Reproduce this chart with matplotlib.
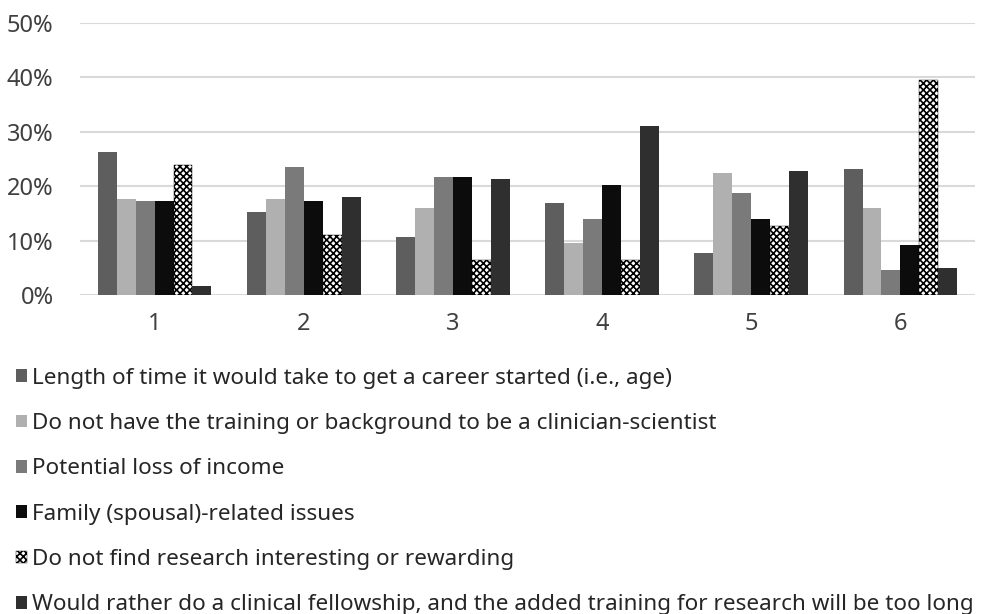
import matplotlib
matplotlib.use("Agg")
import matplotlib.pyplot as plt
import numpy as np

plt.rcParams['font.family'] = ['Noto Sans', 'DejaVu Sans']

# 数据（从图中读取，单位 %）
groups = ['1', '2', '3', '4', '5', '6']
labels = [
    'Length of time it would take to get a career started (i.e., age)',
    'Do not have the training or background to be a clinician-scientist',
    'Potential loss of income',
    'Family (spousal)-related issues',
    'Do not find research interesting or rewarding',
    'Would rather do a clinical fellowship, and the added training for research will be too long',
]
length_time = [26.2, 15.3, 10.7, 16.9, 7.7, 23.1]
no_training = [17.6, 17.6, 16.0, 9.6, 22.5, 16.0]
loss_income = [17.2, 23.5, 21.7, 14.0, 18.7, 4.6]
family = [17.2, 17.2, 21.7, 20.3, 14.0, 9.2]
not_interesting = [23.9, 11.0, 6.4, 6.4, 12.7, 39.6]
clinical_fellowship = [1.6, 18.0, 21.3, 31.1, 22.8, 4.9]

series = [length_time, no_training, loss_income, family, not_interesting, clinical_fellowship]
colors = ['#5e5e5e', '#b0b0b0', '#7a7a7a', '#0c0c0c', 'white', '#2f2f2f']
hatches = [None, None, None, None, 'xxxxx', None]

fig = plt.figure(figsize=(9.91, 6.14), dpi=100)
ax = fig.add_axes([80 / 991, 1 - 295 / 614, 895 / 991, 272 / 614])

x = np.arange(len(groups))
w = 0.127
plt.rcParams['hatch.linewidth'] = 1.2
bars = []
for i, vals in enumerate(series):
    b = ax.bar(x + (i - 2.5) * w, vals, w, color=colors[i], hatch=hatches[i],
               edgecolor='black' if hatches[i] else colors[i], linewidth=0.3 if hatches[i] else 0,
               label=labels[i], zorder=3)
    bars.append(b)

ax.set_xlim(-0.5, len(groups) - 0.5)
ax.set_ylim(0, 50)
ax.set_yticks(range(0, 51, 10))
ax.set_yticklabels([f'{v}%' for v in range(0, 51, 10)])
ax.set_xticks(x)
ax.set_xticklabels(groups)
ax.grid(axis='y', color='#d9d9d9', linewidth=1.5, zorder=0)
for s in ax.spines.values():
    s.set_visible(False)
ax.tick_params(length=0, labelsize=17, colors='#404040')
ax.tick_params(axis='x', pad=12)
ax.tick_params(axis='y', pad=19)

fig.legend(handles=bars, loc='upper left', bbox_to_anchor=(0.0, 1 - 352 / 614),
           frameon=False, fontsize=16.2, labelspacing=1.08, handlelength=0.5,
           handleheight=0.5, handletextpad=0.2, borderpad=0.2, labelcolor='#262626')

plt.savefig('out.png', dpi=100)
